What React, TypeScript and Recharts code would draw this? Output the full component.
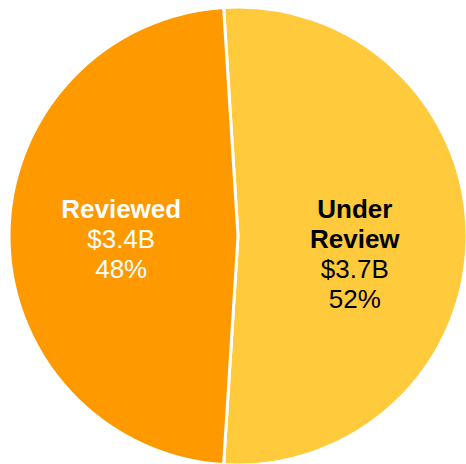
import { PieChart, Pie, Cell } from 'recharts';

const categories = ['Under Review', 'Reviewed'];
const nameLines = [['Under', 'Review'], ['Reviewed']];
const amounts = ['$3.7B', '$3.4B'];
const shares = [52, 48];
const colors = ['#FFCB3D', '#FE9900'];
const textColors = ['#000000', '#FFFFFF'];

const data = categories.map((name, i) => ({ name, value: shares[i] }));

const RADIAN = Math.PI / 180;

const renderLabel = (props: any) => {
  const { cx, cy, midAngle, outerRadius, index } = props;
  const x = cx + outerRadius * 0.51 * Math.cos(-midAngle * RADIAN);
  const lines = [...nameLines[index], amounts[index], `${shares[index]}%`];
  const boldCount = nameLines[index].length;
  return (
    <text
      x={x}
      y={cy - 18}
      textAnchor="middle"
      fill={textColors[index]}
      fontFamily="'Liberation Sans', Arial, sans-serif"
      fontSize={26}
    >
      {lines.map((line, i) => (
        <tspan key={i} x={x} dy={i === 0 ? 0 : 30} fontWeight={i < boldCount ? 'bold' : 'normal'}>
          {line}
        </tspan>
      ))}
    </text>
  );
};

export default function App() {
  return (
    <div style={{ position: 'fixed', top: 0, left: 0, background: '#FFFFFF' }}>
      <PieChart width={466} height={464} margin={{ top: 0, right: 0, bottom: 0, left: 0 }}>
        <Pie
          data={data}
          dataKey="value"
          nameKey="name"
          cx={238}
          cy={236}
          outerRadius={229}
          startAngle={93.6}
          endAngle={-266.4}
          stroke="#FFFFFF"
          strokeWidth={3}
          labelLine={false}
          label={renderLabel}
          isAnimationActive={false}
        >
          {data.map((d, i) => (
            <Cell key={d.name} fill={colors[i]} />
          ))}
        </Pie>
      </PieChart>
    </div>
  );
}
